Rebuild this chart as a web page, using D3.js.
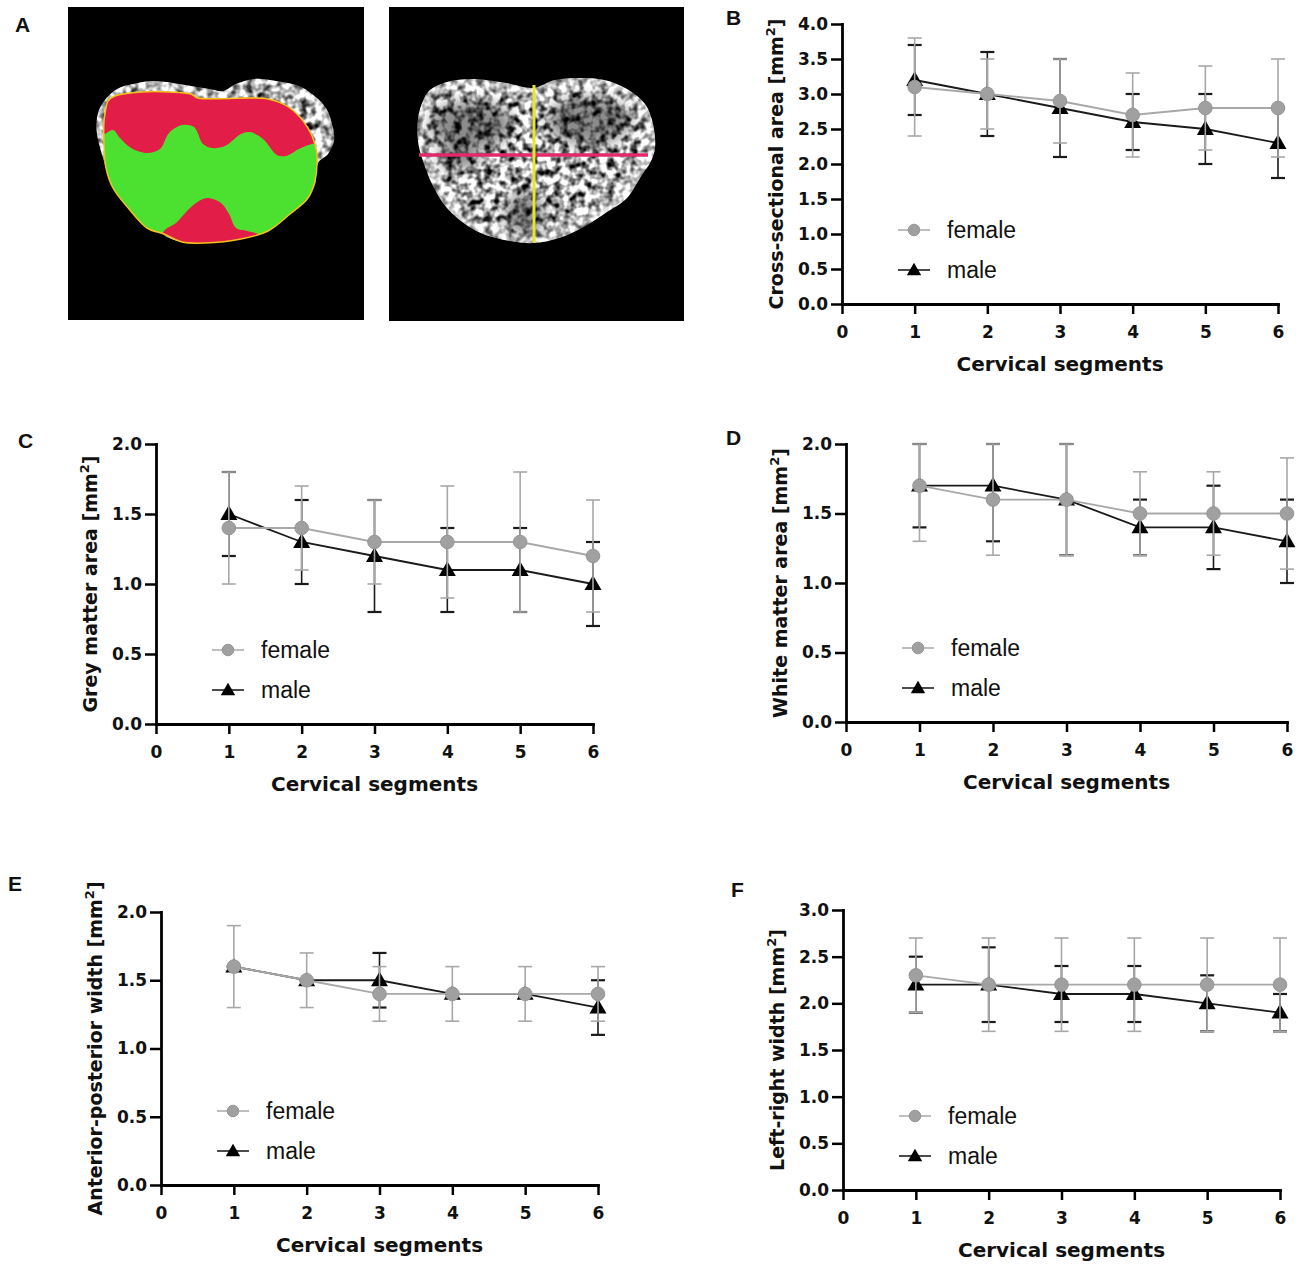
<!DOCTYPE html>
<html>
<head>
<meta charset="utf-8">
<script src="https://cdnjs.cloudflare.com/ajax/libs/d3/7.8.5/d3.min.js"></script>
<style>
	body { margin: 0; background: #fff; }
	svg text { font-family: "DejaVu Sans", sans-serif; fill: #111; }
	.tick-label { font-weight: bold; font-size: 17px; }
	.axis-title { font-weight: bold; font-size: 19px; }
	.x-title { font-weight: bold; font-size: 20px; }
	.legend-label { font-family: "Liberation Sans", Arial, sans-serif !important; font-size: 23px; }
	.panel-letter { font-family: "Liberation Sans", Arial, sans-serif !important; font-weight: bold; font-size: 21px; }
</style>
</head>
<body>
<script>
var segments = [1, 2, 3, 4, 5, 6];
var xTicks = [0, 1, 2, 3, 4, 5, 6];
var seriesNames = ['female', 'male'];

// B - cross-sectional area
var csaFemale = [3.1, 3.0, 2.9, 2.7, 2.8, 2.8];
var csaFemaleSd = [0.7, 0.5, 0.6, 0.6, 0.6, 0.7];
var csaMale = [3.2, 3.0, 2.8, 2.6, 2.5, 2.3];
var csaMaleSd = [0.5, 0.6, 0.7, 0.4, 0.5, 0.5];
var csaTicks = [0, 0.5, 1.0, 1.5, 2.0, 2.5, 3.0, 3.5, 4.0];

// C - grey matter area
var gmFemale = [1.4, 1.4, 1.3, 1.3, 1.3, 1.2];
var gmFemaleSd = [0.4, 0.3, 0.3, 0.4, 0.5, 0.4];
var gmMale = [1.5, 1.3, 1.2, 1.1, 1.1, 1.0];
var gmMaleSd = [0.3, 0.3, 0.4, 0.3, 0.3, 0.3];
var gmTicks = [0, 0.5, 1.0, 1.5, 2.0];

// D - white matter area
var wmFemale = [1.7, 1.6, 1.6, 1.5, 1.5, 1.5];
var wmFemaleSd = [0.4, 0.4, 0.4, 0.3, 0.3, 0.4];
var wmMale = [1.7, 1.7, 1.6, 1.4, 1.4, 1.3];
var wmMaleSd = [0.3, 0.4, 0.4, 0.2, 0.3, 0.3];
var wmTicks = [0, 0.5, 1.0, 1.5, 2.0];

// E - anterior-posterior width
var apFemale = [1.6, 1.5, 1.4, 1.4, 1.4, 1.4];
var apFemaleSd = [0.3, 0.2, 0.2, 0.2, 0.2, 0.2];
var apMale = [1.6, 1.5, 1.5, 1.4, 1.4, 1.3];
var apMaleSd = [0, 0, 0.2, 0, 0, 0.2];
var apTicks = [0, 0.5, 1.0, 1.5, 2.0];

// F - left-right width
var lrFemale = [2.3, 2.2, 2.2, 2.2, 2.2, 2.2];
var lrFemaleSd = [0.4, 0.5, 0.5, 0.5, 0.5, 0.5];
var lrMale = [2.2, 2.2, 2.1, 2.1, 2.0, 1.9];
var lrMaleSd = [0.3, 0.4, 0.3, 0.3, 0.3, 0.2];
var lrTicks = [0, 0.5, 1.0, 1.5, 2.0, 2.5, 3.0];

var panels = [
	{letter: 'B', lx: 726, ly: 25, x0: 842, x1: 1278, yTop: 24, yBot: 304, ticks: csaTicks, title: 'Cross-sectional area [mm',
		female: csaFemale, femaleSd: csaFemaleSd, male: csaMale, maleSd: csaMaleSd},
	{letter: 'C', lx: 18, ly: 448, x0: 156, x1: 593, yTop: 444, yBot: 724, ticks: gmTicks, title: 'Grey matter area [mm',
		female: gmFemale, femaleSd: gmFemaleSd, male: gmMale, maleSd: gmMaleSd},
	{letter: 'D', lx: 726, ly: 445, x0: 846, x1: 1287, yTop: 444, yBot: 722, ticks: wmTicks, title: 'White matter area [mm',
		female: wmFemale, femaleSd: wmFemaleSd, male: wmMale, maleSd: wmMaleSd},
	{letter: 'E', lx: 8, ly: 891, x0: 161, x1: 598, yTop: 912, yBot: 1185, ticks: apTicks, title: 'Anterior-posterior width [mm',
		female: apFemale, femaleSd: apFemaleSd, male: apMale, maleSd: apMaleSd},
	{letter: 'F', lx: 731, ly: 897, x0: 843, x1: 1280, yTop: 910, yBot: 1190, ticks: lrTicks, title: 'Left-right width [mm',
		female: lrFemale, femaleSd: lrFemaleSd, male: lrMale, maleSd: lrMaleSd}
];

// panel A outlines, in pixels inside each scan box
var scan1Tissue = [[29,111],[34,97],[49,82],[65,77],[85,74],[105,76],[123,79],[141,82],[155,84],[168,77],[186,72],[208,74],[231,79],[244,87],[258,101],[265,121],[266,134],[260,147],[250,156],[246,180],[222,207],[191,227],[137,236],[110,234],[83,221],[60,201],[43,174],[33,144],[29,127]];
var scan1Mask = [[40,94],[47,89],[74,85],[101,85],[123,87],[130,91],[200,92],[222,101],[240,121],[247,137],[249,151],[247,174],[240,191],[222,207],[200,224],[173,232],[137,236],[114,235],[96,227],[79,221],[61,202],[45,181],[38,161],[36,137],[36,114],[38,101]];
var scan1Green = [[20,127],[36,127],[45,123],[52,131],[63,141],[79,146],[92,142],[101,126],[114,118],[126,120],[135,137],[144,141],[157,139],[173,127],[182,125],[195,132],[209,148],[218,149],[231,142],[244,137],[271,137],[275,260],[200,247],[193,229],[179,224],[168,221],[161,207],[153,196],[139,191],[128,196],[119,204],[108,216],[96,224],[87,247],[20,260]];
var scan2Tissue = [[34,94],[40,84],[58,75],[85,72],[117,76],[144,81],[166,73],[188,71],[215,73],[238,82],[256,97],[264,117],[266,141],[262,154],[251,171],[238,191],[215,207],[193,221],[170,231],[146,236],[121,234],[94,227],[76,217],[58,201],[45,181],[34,154],[29,134],[29,111]];
var scan2Dark = [[82,118,42,24],[200,114,42,24],[136,207,20,22],[70,150,22,12]];

Figure = {
	init: function() {
		this.svg = d3.select('body').append('svg').attr('width', 1300).attr('height', 1270);
		this.defs = this.svg.append('defs');
		this.addFilters();
		this.drawScans();
		for (var i in panels) {
			this.drawPanel(panels[i]);
		}
	},

	addFilters: function() {
		var f = this.defs.append('filter').attr('id', 'tissue').attr('x', 0).attr('y', 0)
			.attr('width', '100%').attr('height', '100%').attr('color-interpolation-filters', 'sRGB');
		f.append('feTurbulence').attr('type', 'fractalNoise').attr('baseFrequency', 0.13).attr('numOctaves', 2).attr('seed', 4);
		f.append('feColorMatrix').attr('type', 'matrix')
			.attr('values', '2.6 0 0 0 -0.62  2.6 0 0 0 -0.62  2.6 0 0 0 -0.62  0 0 0 0 1');
		this.defs.append('filter').attr('id', 'soft').attr('x', '-50%').attr('y', '-50%').attr('width', '200%').attr('height', '200%')
			.append('feGaussianBlur').attr('stdDeviation', 7);
	},

	shape: function(ox, oy) {
		return d3.line().x(function(d) { return ox + d[0]; }).y(function(d) { return oy + d[1]; })
			.curve(d3.curveCatmullRomClosed.alpha(0.5));
	},

	drawScans: function() {
		var svg = this.svg;
		svg.append('text').attr('class', 'panel-letter').attr('x', 15).attr('y', 32).text('A');

		// left scan: segmentation overlay
		var ox = 68, oy = 7, path = this.shape(ox, oy);
		svg.append('rect').attr('x', ox).attr('y', oy).attr('width', 296).attr('height', 313).attr('fill', '#000');
		svg.append('ellipse').attr('cx', ox + 212).attr('cy', oy + 58).attr('rx', 38).attr('ry', 9).attr('fill', '#060606').attr('filter', 'url(#soft)');
		this.defs.append('clipPath').attr('id', 'cord1').append('path').attr('d', path(scan1Tissue));
		this.defs.append('clipPath').attr('id', 'mask1').append('path').attr('d', path(scan1Mask));
		var t1 = svg.append('g').attr('clip-path', 'url(#cord1)');
		t1.append('rect').attr('x', ox).attr('y', oy).attr('width', 296).attr('height', 313).attr('filter', 'url(#tissue)');
		t1.append('path').attr('d', path(scan1Tissue)).attr('fill', 'none').attr('stroke', '#fff').attr('stroke-width', 14).attr('opacity', 0.4).attr('filter', 'url(#soft)');
		svg.append('path').attr('d', path(scan1Mask)).attr('fill', '#e11d48');
		svg.append('g').attr('clip-path', 'url(#mask1)').append('path').attr('d', path(scan1Green)).attr('fill', '#4ce030');
		svg.append('path').attr('d', path(scan1Mask)).attr('fill', 'none').attr('stroke', '#f2c21b').attr('stroke-width', 1.5);

		// right scan: measuring lines
		ox = 389; oy = 7; path = this.shape(ox, oy);
		svg.append('rect').attr('x', ox).attr('y', oy).attr('width', 295).attr('height', 314).attr('fill', '#000');
		svg.append('ellipse').attr('cx', ox + 212).attr('cy', oy + 58).attr('rx', 38).attr('ry', 9).attr('fill', '#060606').attr('filter', 'url(#soft)');
		this.defs.append('clipPath').attr('id', 'cord2').append('path').attr('d', path(scan2Tissue));
		var t2 = svg.append('g').attr('clip-path', 'url(#cord2)');
		t2.append('rect').attr('x', ox).attr('y', oy).attr('width', 295).attr('height', 314).attr('filter', 'url(#tissue)');
		t2.selectAll('ellipse.dark').data(scan2Dark).enter().append('ellipse').attr('class', 'dark')
			.attr('cx', function(d) { return ox + d[0]; }).attr('cy', function(d) { return oy + d[1]; })
			.attr('rx', function(d) { return d[2]; }).attr('ry', function(d) { return d[3]; })
			.attr('fill', '#000').attr('opacity', 0.45).attr('filter', 'url(#soft)');
		t2.append('path').attr('d', path(scan2Tissue)).attr('fill', 'none').attr('stroke', '#fff').attr('stroke-width', 16).attr('opacity', 0.45).attr('filter', 'url(#soft)');
		svg.append('line').attr('x1', ox + 30).attr('x2', ox + 259).attr('y1', oy + 148).attr('y2', oy + 148)
			.attr('stroke', '#e3296a').attr('stroke-width', 3.5);
		svg.append('line').attr('x1', ox + 145).attr('x2', ox + 145).attr('y1', oy + 78).attr('y2', oy + 236)
			.attr('stroke', '#e6e62a').attr('stroke-width', 3);
	},

	drawPanel: function(p) {
		var g = this.svg.append('g');
		var yMax = p.ticks[p.ticks.length - 1];
		var x = d3.scaleLinear().domain([0, 6]).range([p.x0, p.x1]);
		var y = d3.scaleLinear().domain([0, yMax]).range([p.yBot, p.yTop]).clamp(true);

		g.append('text').attr('class', 'panel-letter').attr('x', p.lx).attr('y', p.ly).text(p.letter);

		var xa = g.append('g').attr('transform', 'translate(0,' + p.yBot + ')')
			.call(d3.axisBottom(x).tickValues(xTicks).tickFormat(d3.format('d')).tickSize(10).tickPadding(12).tickSizeOuter(0));
		var ya = g.append('g').attr('transform', 'translate(' + p.x0 + ',0)')
			.call(d3.axisLeft(y).tickValues(p.ticks).tickFormat(d3.format('.1f')).tickSize(11).tickPadding(3).tickSizeOuter(0));
		[xa, ya].forEach(function(a) {
			a.attr('font-family', null).attr('font-size', null);
			a.select('.domain').attr('stroke', '#000').attr('stroke-width', 2.8).attr('stroke-linecap', 'square');
			a.selectAll('.tick line').attr('stroke', '#000').attr('stroke-width', 2.5);
			a.selectAll('.tick text').attr('class', 'tick-label');
		});

		g.append('text').attr('class', 'x-title').attr('text-anchor', 'middle')
			.attr('x', (p.x0 + p.x1) / 2).attr('y', p.yBot + 67).text('Cervical segments');
		var yt = g.append('text').attr('class', 'axis-title').attr('text-anchor', 'middle')
			.attr('transform', 'translate(' + (p.x0 - 59) + ',' + ((p.yTop + p.yBot) / 2) + ') rotate(-90)');
		yt.append('tspan').text(p.title);
		yt.append('tspan').attr('dy', -8).attr('font-size', 13).text('2');
		yt.append('tspan').attr('dy', 8).text(']');

		this.drawSeries(g, x, y, p.male, p.maleSd, 'male');
		this.drawSeries(g, x, y, p.female, p.femaleSd, 'female');

		// legend
		var lx = p.x0 + 72;
		var rows = [p.yBot - 74, p.yBot - 34];
		for (var k = 0; k < 2; k++) {
			var name = seriesNames[k];
			var col = name == 'female' ? '#a8a8a8' : '#111';
			g.append('line').attr('x1', lx - 16).attr('x2', lx + 16).attr('y1', rows[k]).attr('y2', rows[k])
				.attr('stroke', col).attr('stroke-width', 1.5);
			this.marker(g, name, lx, rows[k], 0.85);
			g.append('text').attr('class', 'legend-label').attr('x', lx + 33).attr('y', rows[k] + 8).text(name);
		}
	},

	drawSeries: function(g, x, y, mean, sd, name) {
		var col = name == 'female' ? '#a8a8a8' : '#1a1a1a';
		var s = g.append('g').attr('class', name);
		for (var i = 0; i < segments.length; i++) {
			var cx = x(segments[i]);
			var lo = y(mean[i] - sd[i]), hi = y(mean[i] + sd[i]);
			s.append('line').attr('x1', cx).attr('x2', cx).attr('y1', lo).attr('y2', hi)
				.attr('stroke', col).attr('stroke-width', 1.6);
			[lo, hi].forEach(function(v) {
				s.append('line').attr('x1', cx - 7).attr('x2', cx + 7).attr('y1', v).attr('y2', v)
					.attr('stroke', col).attr('stroke-width', name == 'male' ? 2.2 : 1.6);
			});
		}
		var line = d3.line().x(function(d, i) { return x(segments[i]); }).y(function(d) { return y(d); });
		s.append('path').datum(mean).attr('d', line).attr('fill', 'none').attr('stroke', col).attr('stroke-width', 1.8);
		for (var j = 0; j < segments.length; j++) {
			this.marker(s, name, x(segments[j]), y(mean[j]), 1);
		}
	},

	marker: function(g, name, cx, cy, k) {
		if (name == 'female') {
			g.append('circle').attr('cx', cx).attr('cy', cy).attr('r', 6.8 * k)
				.attr('fill', '#a0a0a0').attr('stroke', '#969696').attr('stroke-width', 1);
		}
		else {
			g.append('path').attr('d', d3.symbol(d3.symbolTriangle, 125 * k * k)())
				.attr('transform', 'translate(' + cx + ',' + (cy + 1) + ')').attr('fill', '#000');
		}
	}
}

Figure.init();
</script>
</body>
</html>
